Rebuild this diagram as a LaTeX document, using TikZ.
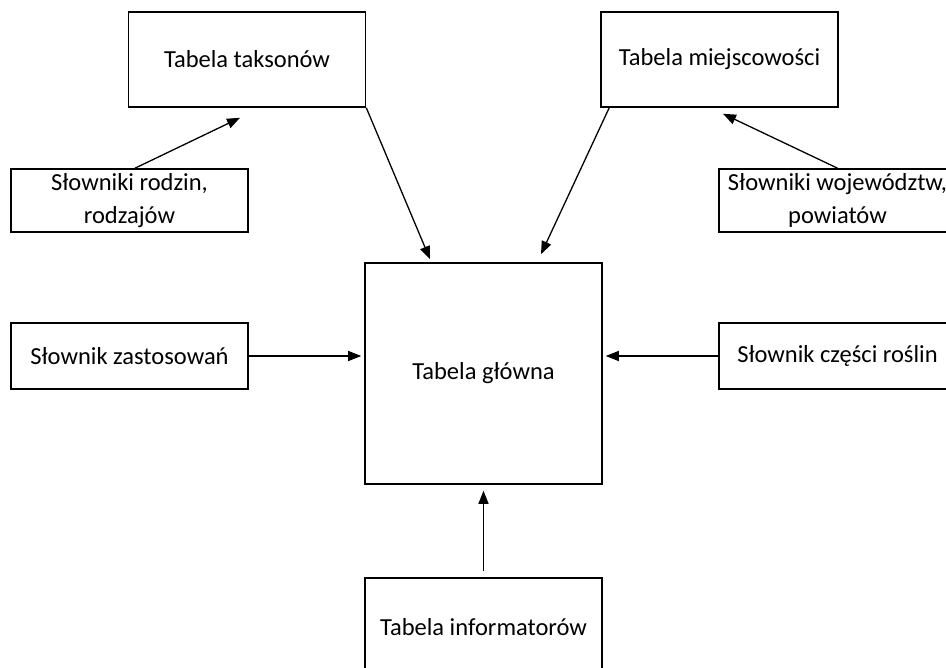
\documentclass[tikz,border=0pt]{standalone}
\usepackage{fontspec}
\setmainfont{Carlito}
\usepackage{xcolor}
\usepackage{tikz}
\usetikzlibrary{arrows.meta, calc}

\begin{document}
\begin{tikzpicture}[
    x=1pt, y=-1pt,
    font=\fontsize{24.5}{33}\selectfont,
    tabela/.style={draw, line width=1.6pt, minimum width=237pt, align=center, inner sep=0pt},
    arr/.style={-{Triangle[length=13pt,width=10pt]}, line width=1.3pt}
  ]
  \useasboundingbox (0,0) rectangle (946,668);
  \node[tabela, minimum height=95pt] (takson) at (247,59.5) {Tabela taksonów};
  \node[tabela, minimum height=95pt] (miejsc) at (719.5,59.5) {Tabela miejscowości};
  \node[tabela, minimum height=63pt] (rodzin) at (129.5,200.5) {Słowniki rodzin,\\rodzajów};
  \node[tabela, minimum height=63pt] (wojew) at (837.5,200.5) {Słowniki województw,\\powiatów};
  \node[tabela, minimum height=66pt] (zastos) at (129.5,356) {Słownik zastosowań};
  \node[tabela, minimum height=66pt] (czesci) at (837.5,356) {Słownik części roślin};
  \node[tabela, minimum height=221pt] (glowna) at (483.5,373.5) {Tabela główna};
  \node[tabela, minimum height=98pt] (inform) at (483.5,627) {Tabela informatorów};
  \path[arr]
    ([xshift=5.5pt]rodzin.north) edge ([xshift=-7pt,yshift=-10pt]takson.south)
    (takson.south east) edge ([xshift=-53.5pt,yshift=3pt]glowna.north)
    ([xshift=9pt]miejsc.south west) edge ([xshift=57.5pt,yshift=8pt]glowna.north)
    (wojew.north) edge ([xshift=3.5pt,yshift=-6pt]miejsc.south)
    (zastos.east) edge[shorten >=3pt] (zastos.east -| glowna.west)
    (czesci.west) edge[shorten >=3pt] (czesci.west -| glowna.east)
    (inform.north) edge[shorten <=6pt, shorten >=6pt] (glowna.south)
    ;
\end{tikzpicture}
\end{document}
